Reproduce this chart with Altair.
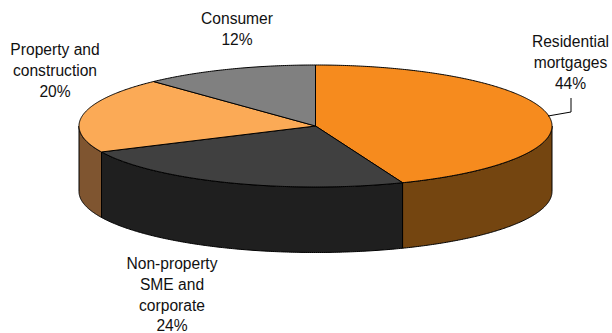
import math

import altair as alt
import pandas as pd

# Loan book composition, clockwise from twelve o'clock
categories = ["Residential mortgages", "Non-property SME and corporate",
              "Property and construction", "Consumer"]
shares = [44, 24, 20, 12]
label_lines = [["Residential", "mortgages", "44%"],
               ["Non-property", "SME and", "corporate", "24%"],
               ["Property and", "construction", "20%"],
               ["Consumer", "12%"]]
top_colors = ["#F68B1E", "#404040", "#FBAA56", "#808080"]
side_colors = ["#744510", "#1F1F1F", "#7F5530", "#404040"]

# Projected disc: centre, radii and wall depth, in canvas units
CX, CY, RX, RY, DEPTH = 315.5, 126.0, 236.5, 61.0, 65.5
W, H = 612, 333

# Label anchors (centre x, first text line's centre y) and the leader line
label_x = [570.5, 172, 55, 237]
label_y = [42, 264, 50, 19]
leader_x = [571, 571, 548]
leader_y = [98, 112, 116]

x_scale = alt.Scale(domain=[0, W], range=[0, W], nice=False, zero=False)
y_scale = alt.Scale(domain=[0, H], range=[0, H], nice=False, zero=False)


def rim(deg, drop=0.0):
    """Point on the disc's rim, angle measured clockwise from the top."""
    a = math.radians(deg)
    return CX + RX * math.sin(a), CY - RY * math.cos(a) + drop


def arc_points(start, end, drop=0.0):
    steps = max(2, int(abs(end - start) * 2))
    return [rim(start + (end - start) * i / steps, drop) for i in range(steps + 1)]


def polygon(points, fill):
    df = pd.DataFrame(points, columns=["x", "y"]).reset_index().rename(columns={"index": "i"})
    return (
        alt.Chart(df)
        .mark_line(fill=fill, stroke="#000000", strokeWidth=1, strokeJoin="round", clip=False)
        .encode(
            x=alt.X("x:Q", scale=x_scale, axis=None),
            y=alt.Y("y:Q", scale=y_scale, axis=None),
            order="i:Q",
        )
    )


bounds = [0.0]
for s in shares:
    bounds.append(bounds[-1] + s / sum(shares) * 360)

walls, tops = [], []
for k in range(len(shares)):
    a0, a1 = bounds[k], bounds[k + 1]
    # Only the part of the rim facing the viewer shows a wall
    lo, hi = max(a0, 90.0), min(a1, 270.0)
    if hi > lo:
        outline = arc_points(lo, hi) + arc_points(hi, lo, DEPTH)
        walls.append(polygon(outline + outline[:1], side_colors[k]))
    wedge = [(CX, CY)] + arc_points(a0, a1) + [(CX, CY)]
    tops.append(polygon(wedge, top_colors[k]))

leader = (
    alt.Chart(pd.DataFrame({"x": leader_x, "y": leader_y, "i": range(len(leader_x))}))
    .mark_line(stroke="#000000", strokeWidth=1)
    .encode(
        x=alt.X("x:Q", scale=x_scale, axis=None),
        y=alt.Y("y:Q", scale=y_scale, axis=None),
        order="i:Q",
    )
)

labels = (
    alt.Chart(pd.DataFrame({
        "x": label_x,
        "y": label_y,
        "text": ["\n".join(lines) for lines in label_lines],
        "category": categories,
    }))
    .mark_text(font="Liberation Sans", fontSize=15.6, color="#111111", align="center",
               baseline="middle", lineBreak="\n", lineHeight=20.8)
    .encode(
        x=alt.X("x:Q", scale=x_scale, axis=None),
        y=alt.Y("y:Q", scale=y_scale, axis=None),
        text="text:N",
    )
)

chart = (
    alt.layer(*walls, *tops, leader, labels)
    .properties(width=W, height=H, padding=0, background="#FFFFFF",
                autosize=alt.AutoSizeParams(type="none"))
    .configure_view(stroke=None)
)

chart.save("out.html", embed_options={"renderer": "svg", "actions": False})
